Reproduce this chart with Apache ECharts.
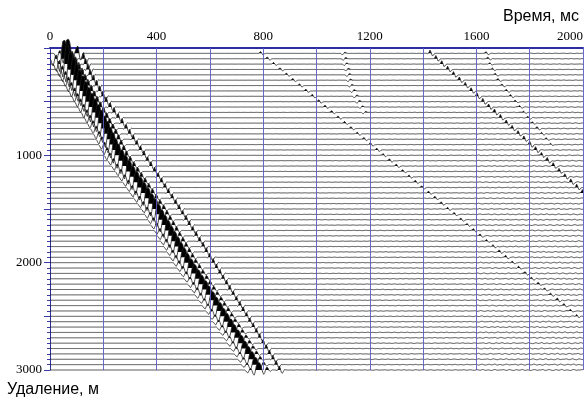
<!DOCTYPE html>
<html><head><meta charset="utf-8">
<script src="https://cdn.jsdelivr.net/npm/echarts@6/dist/echarts.min.js"></script>
<style>html,body{margin:0;padding:0;background:#fff}#c{width:587px;height:403px}</style>
</head><body><div id="c"></div>
<script>
// ---- data ----
const offsets = [50,100,150,200,250,300,350,400,450,500,550,600,650,700,750,800,850,900,950,1000,
1050,1100,1150,1200,1250,1300,1350,1400,1450,1500,1550,1600,1650,1700,1750,1800,1850,1900,1950,2000,
2050,2100,2150,2200,2250,2300,2350,2400,2450,2500,2550,2600,2650,2700,2750,2800,2850,2900,2950,3000];

const timeLabels = [0,400,800,1200,1600,2000];
const timeGrid = [200,400,600,800,1000,1200,1400,1600,1800,2000];
const offsetLabels = [1000,2000,3000];

// first (direct) arrival: peak time, ms
const mainTime = [62,48,60,72,84,95,106,118,129,140,152,164,176,187,199,210,220,230,240,250,
264,278,292,306,320,334,348,362,376,390,402,414,426,438,450,462,474,486,498,510,
524,537,551,564,578,591,605,618,632,645,658,672,685,699,712,725,738,752,765,778];
const mainAmp = [2.6,3.4,3.4,3.3,3.2,3.0,2.9,2.8,2.7,2.6,2.5,2.5,2.4,2.4,2.3,2.3,2.2,2.2,2.1,2.1,
2.0,2.0,2.0,1.95,1.95,1.9,1.9,1.9,1.85,1.85,1.85,1.8,1.8,1.8,1.75,1.75,1.75,1.7,1.7,1.7,
1.65,1.65,1.65,1.6,1.6,1.6,1.55,1.55,1.55,1.5,1.5,1.5,1.45,1.45,1.45,1.4,1.4,1.4,1.35,1.35];

// second arrival (row of small triangles)
const secondTime = [105,125,133,142,150,162,174,186,198,210,225,240,255,270,285,298,312,325,339,352,
365,378,392,405,418,431,444,458,471,484,497,510,522,535,548,561,574,586,599,612,
624,637,649,662,674,687,699,712,724,737,749,762,774,786,799,811,823,836,848,860];
const secondAmp = [1.4,1.3,1.2,1.1,1.05,1.0,1.0,0.95,0.95,0.9,0.9,0.9,0.85,0.85,0.85,0.85,0.85,0.85,0.85,0.85,
0.8,0.8,0.8,0.8,0.8,0.8,0.8,0.8,0.8,0.8,0.8,0.8,0.8,0.8,0.8,0.8,0.8,0.8,0.8,0.8,
0.75,0.75,0.75,0.75,0.75,0.75,0.75,0.75,0.75,0.75,0.75,0.75,0.75,0.75,0.75,0.75,0.75,0.75,0.75,0.75];

// weaker later events (ms, null = not visible)
const eventC = [790,815,839,863,887,911,936,960,984,1008,1032,1057,1081,1105,1129,1153,1178,1202,1226,1250,
1274,1299,1323,1347,1371,1395,1420,1444,1468,1492,1516,1541,1565,1589,1613,1637,1662,1686,1710,1734,
1758,1783,1807,1831,1855,1879,1904,1928,1952,1976,null,null,null,null,null,null,null,null,null,null];
const eventD = [1426,1448,1470,1492,1514,1536,1558,1580,1602,1624,1646,1668,1690,1712,1734,1756,1778,1800,1822,1844,
1866,1888,1910,1932,1954,1976,1998,null,null,null,null,null,null,null,null,null,null,null,null,null,
null,null,null,null,null,null,null,null,null,null,null,null,null,null,null,null,null,null,null,null];
const eventE = [1097,1100,1104,1110,1114,1118,1124,1132,1142,1152,1163,1175,null,null,null,null,null,null,null,null,
null,null,null,null,null,null,null,null,null,null,null,null,null,null,null,null,null,null,null,null,
null,null,null,null,null,null,null,null,null,null,null,null,null,null,null,null,null,null,null,null];
const eventF = [1636,1643,1650,1660,1670,1681,1696,1712,1728,1745,1762,1777,1793,1810,1827,1844,1861,1878,null,null,
null,null,null,null,null,null,null,null,null,null,null,null,null,null,null,null,null,null,null,null,
null,null,null,null,null,null,null,null,null,null,null,null,null,null,null,null,null,null,null,null];
const weakAmp = {C:0.35, D:0.6, E:-0.3, F:0.3};

// wavelet shapes, 4 ms samples
const mainWavelet = [0,-0.1,-0.3,-0.4,-0.15,0.15,0.2,-0.1,-0.5,-0.7,-0.25,0.55,0.95,1.0,1.0,0.8,0.3,-0.3,-0.6,-0.35,0.15,0.4,0.25,-0.05,-0.2,-0.1,0];
const mainStart = -48;
const secondWavelet = [0,-0.15,0.2,1.0,0.4,-0.6,-0.8,-0.3,0.1,0];
const secondStart = -12;
const smallWavelet = [0,0.3,1.0,0.3,-0.7,-0.6,-0.1,0];
const smallStart = -8;

// background reverberation
const ripple = [0.2,0.7,0.5,-0.3,-0.8,-0.3,0.2,0.9,0.4,-0.2,-0.6,-0.9,-0.2,0.4,0.6,0.1,-0.4,-0.3,0.3,1.0,0.5,
-0.5,-0.7,-0.1,0.2,0.0,-0.5,-0.9,-0.4,0.3,0.8,0.6,-0.1,-0.5,-0.2,0.1,0.0];
const noiseByTime = [0,0,0.01,0.015,0.025,0.035,0.045,0.05,0.08,0.09,0.1];   // per 200 ms
const noiseByOffset = [0.5,0.8,1.0,1.1,1.2,1.3,1.3];                      // per 500 m

// ---- rendering ----
const TRACE_UNIT = 50;   // offset units per unit deflection
const STEP = 2, WL = 4;

function wav(w, start, tRel){
  const u = (tRel - start) / WL;
  if (u < 0 || u >= w.length - 1) return 0;
  const k = Math.floor(u), f = u - k;
  return w[k] * (1 - f) + w[k + 1] * f;
}
const weak = [[eventC, weakAmp.C],[eventD, weakAmp.D],[eventE, weakAmp.E],[eventF, weakAmp.F]];
function signal(i, t){
  let s = mainAmp[i] * wav(mainWavelet, mainStart, t - mainTime[i]);
  s += secondAmp[i] * wav(secondWavelet, secondStart, t - secondTime[i]);
  for (const [arr, a] of weak){ const T = arr[i]; if (T != null) s += a * wav(smallWavelet, smallStart, t - T); }
  const lvl = noiseByTime[Math.min(noiseByTime.length-1, Math.floor(t/200))] *
              noiseByOffset[Math.min(noiseByOffset.length-1, Math.floor(offsets[i]/500))];
  if (lvl > 0){
    const u = t / WL + i * 11, k = Math.floor(u), f = u - k, n = ripple.length;
    s += lvl * (ripple[k % n] * (1 - f) + ripple[(k + 1) % n] * f);
  }
  return s;
}

function renderItem(params, api){
  const i = params.dataIndex, o = offsets[i];
  const pts = [], sv = [];
  for (let t = 0; t <= 2000; t += STEP){
    const s = signal(i, t); sv.push(s);
    pts.push(api.coord([t, o - s * TRACE_UNIT]));
  }
  const children = [];
  const N = sv.length;
  let k = 0;
  while (k < N){
    if (sv[k] > 0){
      let j = k, mx = 0;
      while (j < N && sv[j] > 0){ mx = Math.max(mx, sv[j]); j++; }
      if (mx > 0.15){
        const poly = [];
        const t0 = k > 0 ? (k-1)*STEP + STEP * (-sv[k-1]) / (sv[k] - sv[k-1]) : 0;
        poly.push(api.coord([t0, o]));
        for (let m = k; m < j; m++) poly.push(pts[m]);
        const t1 = j < N ? (j-1)*STEP + STEP * sv[j-1] / (sv[j-1] - sv[j]) : (N-1)*STEP;
        poly.push(api.coord([t1, o]));
        children.push({type:'polygon', shape:{points:poly}, style:{fill:'#000'}, silent:true});
      }
      k = j;
    } else k++;
  }
  children.push({type:'polyline', shape:{points:pts}, style:{stroke:'#1e1e1e', lineWidth:0.8, fill:null}, silent:true});
  return {type:'group', children};
}

const blue = '#2e2ea2';
const chart = echarts.init(document.getElementById('c'));
chart.setOption({
  animation:false,
  backgroundColor:'#fff',
  title:[
    {text:'Время, мс', right:3, top:4, textStyle:{fontFamily:'Liberation Sans', fontSize:16, fontWeight:'normal', color:'#000'}},
    {text:'Удаление, м', left:2, top:377, textStyle:{fontFamily:'Liberation Sans', fontSize:16, fontWeight:'normal', color:'#000'}}
  ],
  grid:{left:50, right:4, top:48, bottom:33},
  xAxis:{type:'value', position:'top', min:0, max:2000, interval:200,
    axisLine:{show:true, onZero:false, lineStyle:{color:blue, width:2}},
    axisTick:{show:false},
    axisLabel:{customValues:timeLabels, formatter:v => String(v), fontFamily:'Liberation Serif', fontSize:13, color:'#000', margin:5, alignMaxLabel:'right'},
    splitLine:{show:false}
  },
  yAxis:{type:'value', inverse:true, min:0, max:3000, interval:500,
    axisLine:{show:true, onZero:false, lineStyle:{color:blue, width:1}},
    axisTick:{show:true, length:6, lineStyle:{color:'#3a3aaa'}},
    minorTick:{show:true, splitNumber:10, length:3, lineStyle:{color:'#3a3aaa'}},
    axisLabel:{customValues:offsetLabels, formatter:v => String(v), fontFamily:'Liberation Serif', fontSize:13, color:'#000', margin:8},
    splitLine:{show:false}
  },
  series:[{type:'custom', coordinateSystem:'cartesian2d', silent:true, renderItem,
    encode:{x:0, y:1}, data: offsets.map(o => [0, o]),
    markLine:{silent:true, symbol:['none','none'], label:{show:false},
      lineStyle:{color:'#5a5ac6', width:1, type:'solid', opacity:0.9},
      data: timeGrid.map(t => ({xAxis:t}))}
  }]
});
</script></body></html>
